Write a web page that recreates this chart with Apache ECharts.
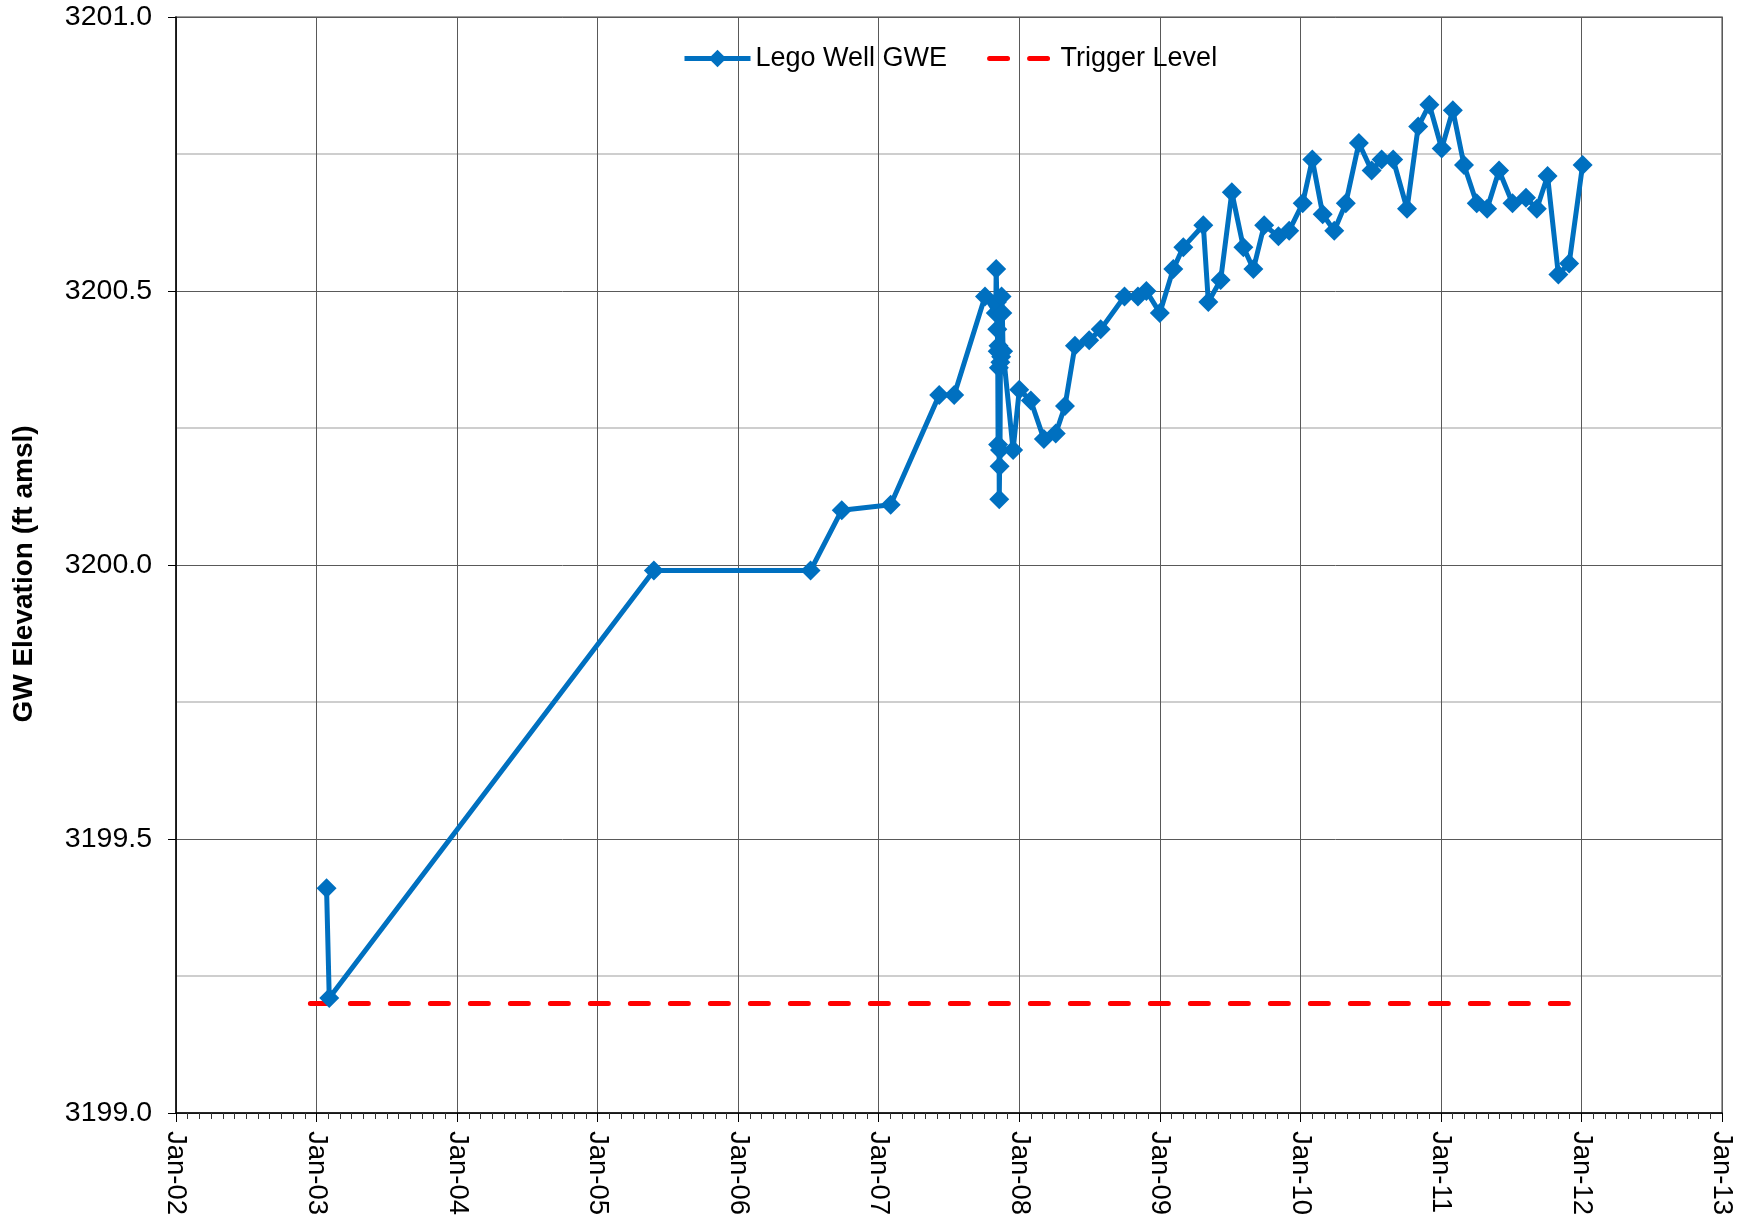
<!DOCTYPE html>
<html>
<head>
<meta charset="utf-8">
<title>Lego Well GWE</title>
<script src="https://cdn.jsdelivr.net/npm/echarts@6/dist/echarts.min.js"></script>
<style>
  html, body { margin: 0; padding: 0; background: #fff; }
  #chart { width: 1741px; height: 1222px; }
</style>
</head>
<body>
<div id="chart"></div>
<script>
// sample dates and groundwater elevations (ft amsl)
const sampleDates = [
  '2003-01-27', '2003-02-03', '2005-05-27', '2006-07-08', '2006-09-27', '2007-02-01',
  '2007-06-07', '2007-07-16', '2007-10-04', '2007-11-01', '2007-11-02', '2007-11-04',
  '2007-11-05', '2007-11-06', '2007-11-07', '2007-11-08', '2007-11-09', '2007-11-10',
  '2007-11-11', '2007-11-12', '2007-11-13', '2007-11-15', '2007-11-16', '2007-11-18',
  '2007-11-20', '2007-12-16', '2008-01-01', '2008-01-31', '2008-03-05', '2008-04-05',
  '2008-04-29', '2008-05-25', '2008-07-01', '2008-07-31', '2008-10-01', '2008-11-05',
  '2008-11-27', '2009-01-01', '2009-02-05', '2009-03-03', '2009-04-24', '2009-05-07',
  '2009-06-08', '2009-07-07', '2009-08-06', '2009-09-01', '2009-09-29', '2009-11-05',
  '2009-12-03', '2010-01-07', '2010-02-01', '2010-02-28', '2010-03-30', '2010-04-29',
  '2010-06-02', '2010-07-05', '2010-07-31', '2010-08-30', '2010-10-05', '2010-11-03',
  '2010-12-02', '2011-01-03', '2011-02-01', '2011-03-02', '2011-04-04', '2011-05-01',
  '2011-06-01', '2011-07-06', '2011-08-10', '2011-09-07', '2011-10-05', '2011-11-02',
  '2011-11-30', '2012-01-04'
]
const gweValues = [
  3199.41, 3199.21, 3199.99, 3199.99, 3200.10, 3200.11,
  3200.31, 3200.31, 3200.49, 3200.46, 3200.54, 3200.48,
  3200.43, 3200.39, 3200.22, 3200.40, 3200.36, 3200.12,
  3200.18, 3200.21, 3200.37, 3200.38, 3200.49, 3200.46,
  3200.39, 3200.21, 3200.32, 3200.30, 3200.23, 3200.24,
  3200.29, 3200.40, 3200.41, 3200.43, 3200.49, 3200.49,
  3200.50, 3200.46, 3200.54, 3200.58, 3200.62, 3200.48,
  3200.52, 3200.68, 3200.58, 3200.54, 3200.62, 3200.60,
  3200.61, 3200.66, 3200.74, 3200.64, 3200.61, 3200.66,
  3200.77, 3200.72, 3200.74, 3200.74, 3200.65, 3200.80,
  3200.84, 3200.76, 3200.83, 3200.73, 3200.66, 3200.65,
  3200.72, 3200.66, 3200.67, 3200.65, 3200.71, 3200.53,
  3200.55, 3200.73
]

const triggerDates = ['2002-12-16', '2012-01-01']
const triggerValues = [3199.2, 3199.2]

const xMinYear = 2002
const xMaxYear = 2013
const yMin = 3199.0
const yMax = 3201.0

// date string -> fractional year, so the axis can tick on every Jan 1
const toYear = (d) => {
  const t = Date.parse(d + 'T00:00:00Z')
  const y = new Date(t).getUTCFullYear()
  const start = Date.UTC(y, 0, 1)
  const end = Date.UTC(y + 1, 0, 1)
  return y + (t - start) / (end - start)
}

const font = 'Liberation Sans, Arial, sans-serif'
const chartInstance = echarts.init(document.getElementById('chart'))

const option = {
  animation: false,
  backgroundColor: '#fff',
  textStyle: { fontFamily: font },
  legend: {
    top: 40,
    left: 677,
    itemWidth: 66,
    itemHeight: 22,
    itemGap: 40,
    textStyle: { fontFamily: font, fontSize: 27, color: '#000' },
    data: [
      { name: 'Lego Well GWE', lineStyle: { width: 5 } },
      { name: 'Trigger Level', itemStyle: { opacity: 0 }, lineStyle: { width: 5, type: [18, 22], cap: 'round' } }
    ]
  },
  grid: {
    left: 176,
    right: 19,
    top: 17,
    bottom: 109,
    show: true,
    borderColor: '#808080',
    borderWidth: 1.5
  },
  xAxis: {
    type: 'value',
    min: xMinYear,
    max: xMaxYear,
    interval: 1,
    axisLine: { show: true, onZero: false, lineStyle: { color: '#000', width: 1.5 } },
    axisTick: { show: true, length: 9, lineStyle: { color: '#000' } },
    minorTick: { show: true, splitNumber: 12, length: 6, lineStyle: { color: '#333' } },
    axisLabel: {
      rotate: -90,
      margin: 18,
      fontSize: 27.5,
      color: '#000',
      formatter: (v) => 'Jan-' + String(Math.round(v) % 100).padStart(2, '0')
    },
    splitLine: { show: true, lineStyle: { color: '#595959', width: 1 } }
  },
  yAxis: {
    type: 'value',
    min: yMin,
    max: yMax,
    interval: 0.5,
    name: 'GW Elevation (ft amsl)',
    nameLocation: 'middle',
    nameGap: 138,
    nameTextStyle: { fontFamily: font, fontSize: 28, fontWeight: 'bold', color: '#000', padding: [0, 18, 0, 0] },
    axisLine: { show: true, lineStyle: { color: '#000', width: 1.5 } },
    axisTick: { show: true, length: 8, lineStyle: { color: '#000' } },
    axisLabel: {
      margin: 24,
      fontSize: 28.5,
      color: '#000',
      formatter: (v) => v.toFixed(1)
    },
    splitLine: { show: true, lineStyle: { color: '#595959', width: 1 } },
    minorSplitLine: { show: true, lineStyle: { color: '#bfbfbf', width: 1.5 } },
    minorTick: { show: false, splitNumber: 2 }
  },
  series: [
    {
      name: 'Lego Well GWE',
      type: 'line',
      data: sampleDates.map((d, i) => [toYear(d), gweValues[i]]),
      symbol: 'diamond',
      symbolSize: 20,
      showAllSymbol: true,
      itemStyle: { color: '#0070C0' },
      lineStyle: { color: '#0070C0', width: 5 },
      z: 3
    },
    {
      name: 'Trigger Level',
      type: 'line',
      data: triggerDates.map((d, i) => [toYear(d), triggerValues[i]]),
      showSymbol: false,
      symbol: 'none',
      itemStyle: { color: '#FF0000' },
      lineStyle: { color: '#FF0000', width: 5, type: [18, 22], cap: 'round' },
      z: 2
    }
  ]
}

chartInstance.setOption(option)
window.addEventListener('resize', () => chartInstance.resize())
</script>
</body>
</html>
